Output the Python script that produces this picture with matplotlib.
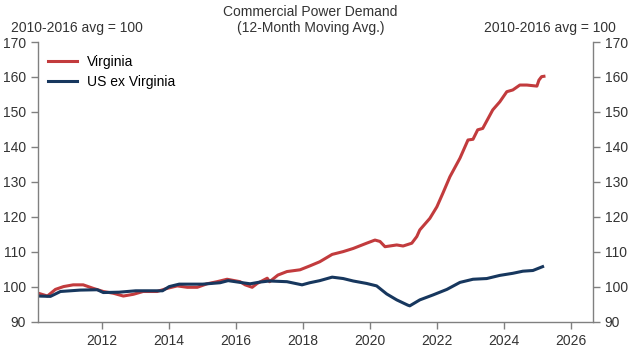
import matplotlib
matplotlib.use("Agg")
import matplotlib.pyplot as plt

plt.rcParams['font.family'] = ['Liberation Sans', 'DejaVu Sans']

va_years = [2010.09, 2010.36, 2010.6, 2010.84, 2011.13, 2011.43, 2011.73, 2012.03, 2012.33, 2012.63,
            2012.93, 2013.22, 2013.64, 2013.94, 2014.24, 2014.54, 2014.84, 2015.13, 2015.43, 2015.73,
            2016.12, 2016.27, 2016.48, 2016.63, 2016.93, 2017.0, 2017.25, 2017.52, 2017.91, 2018.2,
            2018.5, 2018.87, 2019.2, 2019.5, 2019.9, 2020.15, 2020.3, 2020.45, 2020.8, 2020.99,
            2021.25, 2021.4, 2021.49, 2021.79, 2022.0, 2022.18, 2022.39, 2022.69, 2022.93, 2023.08,
            2023.22, 2023.37, 2023.67, 2023.88, 2024.09, 2024.27, 2024.48, 2024.69, 2024.99, 2025.05,
            2025.13, 2025.2]
virginia = [98.2, 97.4, 99.3, 100.1, 100.6, 100.6, 99.6, 98.7, 98.2, 97.4,
            97.9, 98.7, 98.7, 99.6, 100.3, 99.9, 99.9, 100.9, 101.5, 102.2,
            101.5, 100.6, 99.9, 101.0, 102.5, 101.5, 103.4, 104.4, 104.9, 106.0,
            107.2, 109.3, 110.1, 111.0, 112.5, 113.4, 113.0, 111.5, 112.0, 111.7,
            112.5, 114.4, 116.3, 119.6, 122.9, 126.8, 131.5, 136.8, 142.0, 142.2,
            144.9, 145.3, 150.6, 152.9, 155.8, 156.3, 157.7, 157.7, 157.4, 159.1,
            160.1, 160.2]

us_years = [2010.09, 2010.45, 2010.75, 2011.34, 2011.85, 2012.03, 2012.5, 2013.0, 2013.5, 2013.8,
            2014.0, 2014.3, 2015.0, 2015.52, 2015.76, 2016.12, 2016.42, 2016.72, 2017.0, 2017.52,
            2017.97, 2018.2, 2018.5, 2018.87, 2019.2, 2019.5, 2019.9, 2020.2, 2020.5, 2020.8,
            2021.13, 2021.19, 2021.49, 2021.88, 2022.3, 2022.69, 2023.08, 2023.49, 2023.88, 2024.27,
            2024.57, 2024.87, 2025.16]
us_ex_va = [97.4, 97.3, 98.7, 99.1, 99.2, 98.4, 98.5, 98.9, 98.9, 98.9,
            100.1, 100.8, 100.8, 101.2, 101.8, 101.3, 100.9, 101.4, 101.7, 101.5,
            100.6, 101.2, 101.8, 102.8, 102.4, 101.7, 101.0, 100.3, 98.0, 96.3,
            94.8, 94.6, 96.3, 97.7, 99.3, 101.3, 102.2, 102.4, 103.3, 103.9,
            104.5, 104.7, 105.8]

x_ticks = [2012, 2014, 2016, 2018, 2020, 2022, 2024, 2026]
y_ticks = [90, 100, 110, 120, 130, 140, 150, 160, 170]

red = '#C23B3D'
blue = '#17375E'
gray = '#808080'
tc = '#333333'
fs = 10

fig = plt.figure(figsize=(6.34, 3.53), dpi=100)
ax = fig.add_axes([0.06, 0.088, 0.875, 0.793])
ax.plot(va_years, virginia, color=red, lw=2.2, label='Virginia', solid_joinstyle='round')
ax.plot(us_years, us_ex_va, color=blue, lw=2.2, label='US ex Virginia', solid_joinstyle='round')

ax.set_xlim(2010.08, 2026.66)
ax.set_ylim(90, 170)
ax.set_xticks(x_ticks)
ax.set_yticks(y_ticks)
ax.spines['top'].set_visible(False)
for s in ['left', 'right', 'bottom']:
    ax.spines[s].set_color(gray)
    ax.spines[s].set_linewidth(1.0)
ax.tick_params(axis='both', colors=gray, labelcolor=tc, labelsize=fs, length=5, width=1.0, direction='out')
ax.tick_params(axis='y', left=True, right=True, labelleft=True, labelright=True)

leg = ax.legend(loc='upper left', frameon=False, fontsize=fs, handlelength=2.1, handletextpad=0.7,
                bbox_to_anchor=(-0.005, 1.0), labelspacing=0.45)

fig.text(0.49, 0.985, 'Commercial Power Demand\n(12-Month Moving Avg.)', ha='center', va='top',
         fontsize=fs, color=tc, linespacing=1.2)
fig.text(0.018, 0.922, '2010-2016 avg = 100', ha='left', va='center', fontsize=fs, color=tc)
fig.text(0.972, 0.922, '2010-2016 avg = 100', ha='right', va='center', fontsize=fs, color=tc)

fig.savefig('out.png', dpi=100)
